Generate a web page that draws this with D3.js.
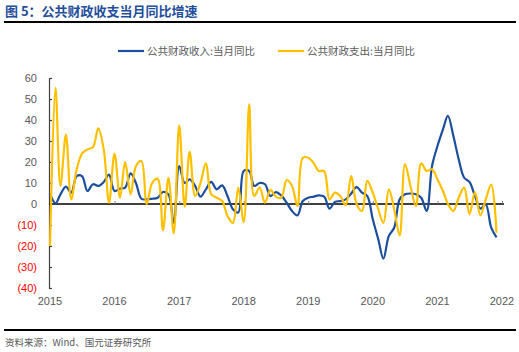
<!DOCTYPE html>
<html><head><meta charset="utf-8">
<script src="https://cdn.jsdelivr.net/npm/d3@7"></script>
<style>body{margin:0;background:#fff}svg{display:block}</style>
</head><body>
<svg id="c" width="519" height="352"></svg>
<script>
const title = "图 5：公共财政收支当月同比增速";
const source = "资料来源：Wind、国元证券研究所";
const seriesNames = ["公共财政收入:当月同比", "公共财政支出:当月同比"];
const startMonth = "2015-01";
const yearLabels = ["2015","2016","2017","2018","2019","2020","2021","2022"];
const yTicks = [60,50,40,30,20,10,0,-10,-20,-30,-40];
const revenue = [5,0.3,4.6,8.3,5.4,13.3,13.3,6.2,9.4,8.6,10.5,14,
  6.2,7.3,7.8,14.6,10,2.5,2.2,2.5,3,5.7,4.6,-9,
  18,10,11.7,8.6,3.5,7,10.5,7,8.9,3.8,-2.5,-4,
  15.7,15.7,8.6,10,9.4,3.8,5.7,4.1,0.6,-3.3,-5.4,1.4,
  3,3.5,4.1,3.5,-2.2,1,1.4,2.2,5,8,5.4,3.8,
  -7.3,-16.8,-26,-15.2,-11.3,2.2,4.6,5,4.6,3,-3.3,18,
  27.6,35.5,42,32.4,21.3,12.5,10.5,3.8,-2.2,-0.2,-11.3,-15.9];
const expenditure = [-20,55.4,8.6,33,2.2,16.5,24,26,27,36,26,0.6,
  24,3,20,4.6,18,20.5,0,10,12,-12.4,12.5,-14,
  37.5,-1.3,25,3.8,10,19.4,4.6,3,1.4,-5.7,-9,7.8,
  -8.6,47.5,3.8,7.8,0.6,6.7,3.5,3,11.4,8.6,-1,22,
  22,19.4,15.7,15.7,2.2,5.4,3.8,-0.6,13.3,0,-3.3,11,
  5.4,-2.5,-9,7,-2.5,-15,19,8.6,-1,19.4,15.7,16.5,
  11.7,6.2,0,-3.3,3,7.8,-4.9,5.7,-5.4,2.2,9.2,-13.7];
const colors = ["#1b4f9c", "#ffc000"];

const svg = d3.select("#c");
const parse = d3.timeParse("%Y-%m");
const t0 = parse(startMonth);
const dates = revenue.map((_, i) => d3.timeMonth.offset(t0, i));

const x = d3.scaleTime().domain([new Date(2015,0,1), new Date(2022,0,1)]).range([50, 502]);
const y = d3.scaleLinear().domain([-40, 60]).range([288, 78]);

// title
svg.append("text").attr("x", 5).attr("y", 16).text(title)
  .attr("font-family", "'Noto Sans CJK SC', sans-serif").attr("font-weight", "bold")
  .attr("font-size", 13).attr("fill", "#1f4e9c");
svg.append("line").attr("x1", 4).attr("x2", 516).attr("y1", 22).attr("y2", 22)
  .attr("stroke", "#000").attr("stroke-width", 2);

// legend
seriesNames.forEach((n, k) => {
  const lx = k === 0 ? 118 : 278;
  svg.append("line").attr("x1", lx).attr("x2", lx + 26).attr("y1", 51).attr("y2", 51)
    .attr("stroke", colors[k]).attr("stroke-width", 2.2);
  svg.append("text").attr("x", lx + 29).attr("y", 55).text(n)
    .attr("font-family", "'Noto Sans CJK SC', sans-serif").attr("font-size", 10.5)
    .attr("fill", "#595959");
});

// y axis
const yAxis = svg.append("g").attr("transform", "translate(49,0)")
  .call(d3.axisLeft(y).tickValues(yTicks).tickSize(-3).tickPadding(12)
    .tickFormat(d => d < 0 ? `(${-d})` : d));
yAxis.select(".domain").attr("stroke", "#404040").attr("stroke-width", 1.2);
yAxis.selectAll(".tick line").attr("stroke", "#404040").attr("stroke-width", 1.2);
yAxis.selectAll(".tick text").attr("font-family", "'Liberation Sans', Arial, sans-serif")
  .attr("font-size", 11).attr("fill", d => d < 0 ? "#ff0000" : "#595959");

// x axis at zero
const xAxis = svg.append("g").attr("transform", `translate(0,${y(0)})`)
  .call(d3.axisBottom(x).tickValues(yearLabels.map(s => new Date(+s,0,1))).tickSize(-3).tickFormat(() => ""));
xAxis.select(".domain").attr("stroke", "#000").attr("stroke-width", 1.3).attr("d", "M49,0H504");
xAxis.selectAll(".tick line").attr("stroke", "#808080");

svg.append("g").selectAll("text").data(yearLabels).join("text")
  .attr("x", d => x(new Date(+d,0,1))).attr("y", 305).attr("text-anchor", "middle").text(d => d)
  .attr("font-family", "'Liberation Sans', Arial, sans-serif").attr("font-size", 11).attr("fill", "#595959");

// lines
const line = d3.line().x((d, i) => x(dates[i])).y(d => y(d)).curve(d3.curveCatmullRom.alpha(0.5));
[revenue, expenditure].forEach((s, k) => {
  svg.append("path").attr("d", line(s)).attr("fill", "none")
    .attr("stroke", colors[k]).attr("stroke-width", 2.2).attr("stroke-linejoin", "round");
});
// draw revenue on top? reference: yellow over blue mostly
svg.selectAll("path").filter(function(){return d3.select(this).attr("stroke")===colors[1];}).raise();

// bottom line and source
svg.append("line").attr("x1", 4).attr("x2", 516).attr("y1", 330).attr("y2", 330)
  .attr("stroke", "#000").attr("stroke-width", 2);
svg.append("text").attr("x", 5).attr("y", 346).text(source)
  .attr("font-family", "'Noto Sans CJK SC', sans-serif").attr("font-size", 9.5).attr("fill", "#595959");
</script>
</body></html>
